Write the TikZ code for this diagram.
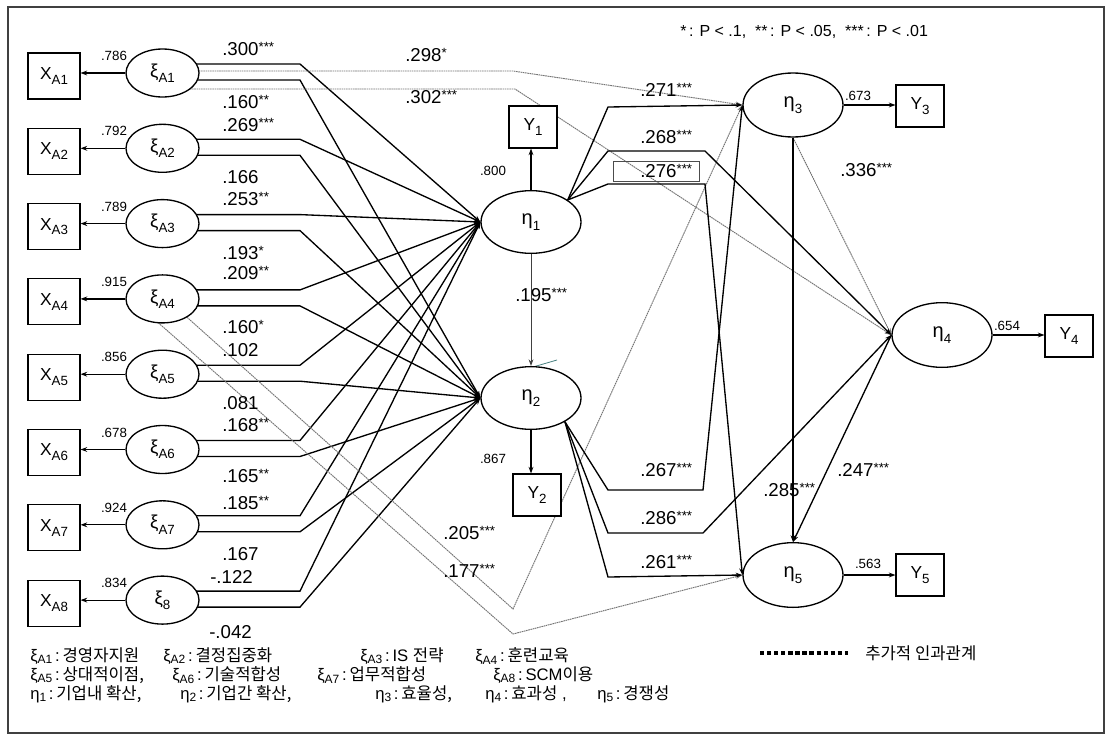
\documentclass[tikz,border=0pt]{standalone}
\usepackage{fontspec}
\setmainfont{Liberation Sans}
\newfontfamily\krfont{Noto Sans CJK KR}
\usetikzlibrary{arrows.meta,shapes.geometric}
\pgfdeclarelayer{back}
\pgfdeclarelayer{wires}
\pgfsetlayers{back,wires,main}

% raised significance stars and lowered indices
\newcommand\stars[1]{\raisebox{0.22em}{\fontsize{10}{10}\selectfont#1}}
\newcommand\idx[1]{\raisebox{-0.28em}{\fontsize{10}{10}\selectfont#1}}
\newcommand\lidx[1]{\raisebox{-0.15em}{\fontsize{9}{9}\selectfont#1}}

\begin{document}
\begin{tikzpicture}[x=0.75pt,y=-0.75pt,
  lat/.style={ellipse, draw, line width=1pt, fill=white, inner sep=0pt},
  xi/.style={lat, minimum width=54.75pt, minimum height=36pt, font=\fontsize{14}{14}\selectfont},
  eta/.style={lat, minimum width=75pt, minimum height=47pt, font=\fontsize{15}{15}\selectfont},
  obs/.style={draw, line width=0.8pt, fill=white, inner sep=0pt, font=\fontsize{13}{13}\selectfont},
  xbox/.style={obs, minimum width=39pt, minimum height=34.5pt},
  ybox/.style={obs, minimum width=36pt, minimum height=31.5pt},
  tip/.style={-{Stealth[length=5pt,width=3.6pt]}},
  wire/.style={tip, line width=1pt},
  extra/.style={tip, draw=black!55, line width=0.7pt, dash pattern=on 1.2pt off 0.5pt},
  coef/.style={anchor=west, inner sep=0pt, font=\fontsize{14}{14}\selectfont},
  load/.style={inner sep=0pt, font=\fontsize{10}{10}\selectfont},
  key/.style={anchor=west, inner sep=0pt, font=\fontsize{12.5}{12.5}\selectfont}]

\useasboundingbox (0,0) rectangle (1109,739);
\begin{pgfonlayer}{back}
  \fill[white] (0,0) rectangle (1109,739);
\end{pgfonlayer}
\draw[line width=0.8pt, black!75] (8,7) rectangle (1104,733);

% exogenous constructs and their indicators
\foreach \i/\nm/\ld in {1/A1/.786, 2/A2/.792, 3/A3/.789, 4/A4/.915,
                        5/A5/.856, 6/A6/.678, 7/A7/.924, 8/8/.834} {
  \pgfmathsetmacro\yc{76+75.3*(\i-1)}
  \node[xbox] (X\i) at (54,\yc) {X\idx{A\i}};
  \node[xi] (K\i) at (162.5,\yc-3) {ξ\idx{\nm}};
  \node[load] (L\i) at (114,\yc-20) {\ld};
  \draw[tip, line width=0.9pt] (K\i.west) -- (K\i.west -| X\i.east);
}

% endogenous constructs
\node[eta] (e1) at (531,222) {η\idx{1}};
\node[eta] (e2) at (531,398) {η\idx{2}};
\node[eta, minimum height=48pt] (e3) at (793,105) {η\idx{3}};
\node[eta, minimum height=48.5pt] (e4) at (942,335) {η\idx{4}};
\node[eta, minimum height=48.5pt] (e5) at (793,575) {η\idx{5}};

\node[ybox] (Y1) at (533,127) {Y\idx{1}};
\node[ybox] (Y2) at (537,495) {Y\idx{2}};
\node[ybox] (Y3) at (920,106) {Y\idx{3}};
\node[ybox] (Y4) at (1069,336) {Y\idx{4}};
\node[ybox] (Y5) at (920,575) {Y\idx{5}};

\node[load] (l800) at (493,171) {.800};
\node[load] (l867) at (493,459) {.867};
\node[load] (l673) at (858,96) {.673};
\node[load] (l654) at (1007,326) {.654};
\node[load] (l563) at (868,564) {.563};

\draw[tip, line width=0.9pt] (e1.north) -- (e1.north |- Y1.south);
\draw[tip, line width=1.6pt] (e2.south) -- (e2.south |- Y2.north);
\draw[tip, line width=0.9pt] (e3.east) -- (e3.east -| Y3.west);
\draw[tip, line width=0.9pt] (e4.east) -- (e4.east -| Y4.west);
\draw[tip, line width=0.9pt] (e5.east) -- (e5.east -| Y5.west);

\begin{pgfonlayer}{wires}
  % paths from the exogenous constructs to eta1 and eta2
  \foreach \i in {1,...,8} {
    \draw[wire] ([shift={(0,-9)}]K\i.center) -- ++(137.5,0) -- (e1.west);
    \draw[wire] ([shift={(0,7)}]K\i.center) -- ++(137.5,0) -- (e2.west);
  }
  % additional causal paths
  \draw[extra] ([shift={(0,-2)}]K1.center) -- (513,71) -- (e3.west);
  \draw[extra] ([shift={(0,16)}]K1.center) -- (515,89) -- (e4.west);
  \draw[extra] ([shift={(12.5,7.6)}]K4.center) -- (513,609) -- (e3.west);
  \draw[extra] ([shift={(-12.5,16.6)}]K4.center) -- (513,634) -- (e5.west);
  \draw[extra] (e3.south) -- (e4.west);

  % paths among the endogenous constructs
  \draw[tip, line width=0.7pt, black!75] (e1.south) -- (e2.north);
  \draw[teal!45!gray, line width=0.6pt] (533,367) -- (557,360);
  \draw[wire] (e1.31) -- (608,107) -- (e3.west);
  \draw[wire] (e1.31) -- (608,151) -- (705,151) -- (e4.west);
  \draw[wire] (e1.31) -- (608,184) -- (705,184) -- (e5.west);
  \draw[wire] (e2.-35) -- (608,490) -- (703,490) -- (e3.west);
  \draw[wire] (e2.-35) -- (608,533) -- (703,533) -- (e4.west);
  \draw[wire] (e2.-35) -- (608,577) -- (e5.west);
  \draw[wire] (e3.south) -- (e5.north);
  \draw[wire] (e4.west) -- (e5.north);
\end{pgfonlayer}

% path coefficients, left block
\node[coef] (c01) at (222,49)  {.300\stars{***}};
\node[coef] (c02) at (222,102) {.160\stars{**}};
\node[coef] (c03) at (222,125) {.269\stars{***}};
\node[coef] (c04) at (222,177) {.166};
\node[coef] (c05) at (222,199) {.253\stars{**}};
\node[coef] (c06) at (222,253) {.193\stars{*}};
\node[coef] (c07) at (222,273) {.209\stars{**}};
\node[coef] (c08) at (222,327) {.160\stars{*}};
\node[coef] (c09) at (222,350) {.102};
\node[coef] (c10) at (222,403) {.081};
\node[coef] (c11) at (222,425) {.168\stars{**}};
\node[coef] (c12) at (222,476) {.165\stars{**}};
\node[coef] (c13) at (222,503) {.185\stars{**}};
\node[coef] (c14) at (222,554) {.167};
\node[coef] (c15) at (210,577) {-.122};
\node[coef] (c16) at (209,632) {-.042};

% path coefficients, right block
\node[coef] (c17) at (405,55)  {.298\stars{*}};
\node[coef] (c18) at (405,97)  {.302\stars{***}};
\node[coef] (c19) at (640,90)  {.271\stars{***}};
\node[coef] (c20) at (640,137) {.268\stars{***}};
\node[coef] (c21) at (640,171) {.276\stars{***}};
\draw[line width=0.7pt, black!70] (613,161) rectangle (699,181);
\node[coef] (c22) at (515,295) {.195\stars{***}};
\node[coef] (c23) at (840,170) {.336\stars{***}};
\node[coef] (c24) at (837,470) {.247\stars{***}};
\node[coef] (c25) at (763,490) {.285\stars{***}};
\node[coef] (c26) at (640,470) {.267\stars{***}};
\node[coef] (c27) at (640,518) {.286\stars{***}};
\node[coef] (c28) at (640,562) {.261\stars{***}};
\node[coef] (c29) at (443,533) {.205\stars{***}};
\node[coef] (c30) at (443,571) {.177\stars{***}};

% significance levels
\node[anchor=west, inner sep=0pt, font=\fontsize{12}{12}\selectfont] (sig) at (680,32)
  {*\,: P < .1,\; **\,: P < .05,\; ***\,: P < .01};

% construct key
\node[key] (k1) at (30,656)  {ξ\lidx{A1}\,:\,{\krfont 경영자지원}};
\node[key] (k2) at (163,656) {ξ\lidx{A2}\,:\,{\krfont 결정집중화}};
\node[key] (k3) at (360,656) {ξ\lidx{A3}\,:\,IS {\krfont 전략}};
\node[key] (k4) at (475,656) {ξ\lidx{A4}\,:\,{\krfont 훈련교육}};
\node[key] (k5) at (30,675)  {ξ\lidx{A5}\,:\,{\krfont 상대적이점,}};
\node[key] (k6) at (172,675) {ξ\lidx{A6}\,:\,{\krfont 기술적합성}};
\node[key] (k7) at (317,675) {ξ\lidx{A7}\,:\,{\krfont 업무적합성}};
\node[key] (k8) at (493,675) {ξ\lidx{A8}\,:\,SCM{\krfont 이용}};
\node[key] (k9) at (30,694)  {η\lidx{1}\,:\,{\krfont 기업내 확산,}};
\node[key] (k10) at (180,694) {η\lidx{2}\,:\,{\krfont 기업간 확산,}};
\node[key] (k11) at (375,694) {η\lidx{3}\,:\,{\krfont 효율성,}};
\node[key] (k12) at (485,694) {η\lidx{4}\,:\,{\krfont 효과성} ,};
\node[key] (k13) at (597,694) {η\lidx{5}\,:\,{\krfont 경쟁성}};

% line style key
\coordinate (d1) at (760,653);
\coordinate (d2) at (848,653);
\draw[line width=2.6pt, dash pattern=on 3.2pt off 2.1pt] (d1) -- (d2);
\node[key] (k14) at (865,653) {\krfont 추가적 인과관계};

\end{tikzpicture}
\end{document}
